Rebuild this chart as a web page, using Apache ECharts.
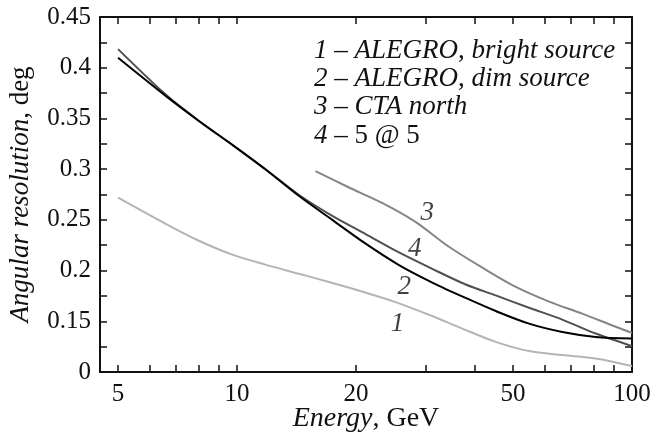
<!DOCTYPE html>
<html>
<head>
<meta charset="utf-8">
<script src="https://cdn.jsdelivr.net/npm/echarts@6/dist/echarts.min.js"></script>
<style>
html,body{margin:0;padding:0;background:#fff;}
#chart{width:655px;height:437px;}
</style>
</head>
<body>
<div id="chart"></div>
<script>
// ---- data (energy in GeV, angular resolution in deg) ----
const c1Energy = [5, 6.6, 8.01, 9.73, 11.8, 14.36, 17.1, 20.7, 25.2, 30.6, 37.2, 45.2, 54.86, 66.6, 80.9, 100];
const c1Value  = [0.2719, 0.2461, 0.2294, 0.2157, 0.2059, 0.1968, 0.1887, 0.1794, 0.1689, 0.1564, 0.1428, 0.1297, 0.1206, 0.1167, 0.1134, 0.1059];

const c2Energy = [5, 6.6, 8.01, 9.73, 11.82, 14.36, 17.43, 21.17, 25.71, 31.22, 37.93, 45.2, 54.86, 66.6, 80.9, 100];
const c2Value  = [0.4098, 0.3722, 0.3475, 0.324, 0.2997, 0.2735, 0.250, 0.2265, 0.2054, 0.1882, 0.173, 0.1601, 0.1477, 0.1395, 0.1346, 0.133];

const c3Energy = [15.8, 19.21, 23.3, 28.3, 34.4, 41.8, 50.8, 61.7, 74.8, 90.9, 100];
const c3Value  = [0.298, 0.2819, 0.2667, 0.248, 0.2235, 0.2029, 0.1839, 0.1694, 0.1575, 0.1446, 0.1386];

const c4Energy = [5, 6.6, 8.01, 9.73, 11.82, 14.36, 17.43, 21.17, 25.71, 31.22, 37.93, 45.2, 54.86, 66.6, 80.9, 100];
const c4Value  = [0.4183, 0.3735, 0.3475, 0.324, 0.2997, 0.2745, 0.2539, 0.236, 0.2179, 0.2017, 0.1863, 0.1755, 0.1634, 0.1517, 0.1379, 0.1255];

const curveLabelText   = ['1', '2', '3', '4'];
const curveLabelEnergy = [25.5, 26.5, 30.3, 28.2];
const curveLabelValue  = [0.1477, 0.1837, 0.257, 0.2213];

const xLabelValues = [5, 10, 20, 50, 100];
const xTickValues  = [5, 6, 7, 8, 9, 10, 20, 30, 40, 50, 60, 70, 80, 90, 100];
const yTickValues  = [0.1, 0.15, 0.2, 0.25, 0.3, 0.35, 0.4, 0.45];
const yTickLabels  = ['0', '0.15', '0.2', '0.25', '0.3', '0.35', '0.4', '0.45'];

const legendLines = [
  '{i|1 – ALEGRO}, {i|bright source}',
  '{i|2 – ALEGRO}, {i|dim source}',
  '{i|3 – CTA north}',
  '{i|4 –} 5 @ 5'
];

const FONT = 'Liberation Serif';
const INK = '#111';

function pairs(xs, ys) { return xs.map((x, i) => [x, ys[i]]); }

const chart = echarts.init(document.getElementById('chart'), null, {renderer: 'canvas'});

const axisLineStyle = {color: INK, width: 2};
function xAxisDef(pos, showLabels) {
  return {
    type: 'log', logBase: 10, min: 4.5, max: 100, position: pos,
    axisLine: {show: true, onZero: false, lineStyle: axisLineStyle},
    axisTick: {show: true, inside: true, length: 7, customValues: xTickValues, lineStyle: {color: INK, width: 1.5}},
    axisLabel: {show: showLabels, customValues: xLabelValues, fontFamily: FONT, fontSize: 25, color: INK, margin: 10,
      formatter: v => String(Math.round(v))},
    minorTick: {show: false}, splitLine: {show: false}, minorSplitLine: {show: false},
    name: showLabels ? '{i|Energy}, GeV' : '', nameLocation: 'middle', nameGap: 33, nameMoveOverlap: false,
    nameTextStyle: {fontFamily: FONT, fontSize: 28, color: INK, rich: {i: {fontFamily: FONT, fontSize: 28, fontStyle: 'italic', color: INK}}}
  };
}
function yAxisDef(pos, showLabels) {
  return {
    type: 'value', min: 0.1, max: 0.45, interval: 0.05, position: pos,
    axisLine: {show: true, onZero: false, lineStyle: axisLineStyle},
    axisTick: {show: true, inside: true, length: 7, lineStyle: {color: INK, width: 1.5}},
    minorTick: {show: true, splitNumber: 2, length: 7, lineStyle: {color: INK, width: 1.5}},
    axisLabel: {show: showLabels, fontFamily: FONT, fontSize: 25, color: INK, margin: 9,
      formatter: v => { const i = yTickValues.findIndex(t => Math.abs(t - v) < 1e-6); return i >= 0 ? yTickLabels[i] : ''; }},
    splitLine: {show: false},
    name: showLabels ? '{i|Angular resolution}, deg' : '', nameLocation: 'middle', nameGap: 66, nameMoveOverlap: false,
    nameTextStyle: {fontFamily: FONT, fontSize: 27, color: INK, rich: {i: {fontFamily: FONT, fontSize: 27, fontStyle: 'italic', color: INK}}}
  };
}

function lineSeries(xs, ys, color, width, z) {
  return {type: 'line', data: pairs(xs, ys), smooth: 0.3, showSymbol: false, symbol: 'none',
    lineStyle: {color: color, width: width}, z: z, silent: true, animation: false};
}

chart.setOption({
  animation: false,
  backgroundColor: '#fff',
  grid: {left: 100, right: 23, top: 17, bottom: 65, containLabel: false, outerBoundsMode: 'none'},
  xAxis: [xAxisDef('bottom', true), xAxisDef('top', false)],
  yAxis: [yAxisDef('left', true), yAxisDef('right', false)],
  series: [
    lineSeries(c1Energy, c1Value, '#b4b4b4', 2, 2),
    lineSeries(c3Energy, c3Value, '#858585', 2, 3),
    lineSeries(c4Energy, c4Value, '#505050', 2, 4),
    lineSeries(c2Energy, c2Value, '#000000', 2, 5),
    {
      type: 'scatter', symbolSize: 0, silent: true, z: 6,
      data: curveLabelText.map((t, i) => ({name: t, value: [curveLabelEnergy[i], curveLabelValue[i]]})),
      label: {show: true, position: 'inside', formatter: p => p.name, fontFamily: FONT, fontSize: 27, fontStyle: 'italic', color: INK}
    }
  ],
  graphic: legendLines.map((t, i) => ({
    type: 'text', left: 314, top: 37 + i * 28.4, silent: true,
    style: {text: t, font: '27px "Liberation Serif"', fill: INK,
      rich: {i: {fontFamily: FONT, fontSize: 27, fontStyle: 'italic', fill: INK}}}
  }))
});
</script>
</body>
</html>
